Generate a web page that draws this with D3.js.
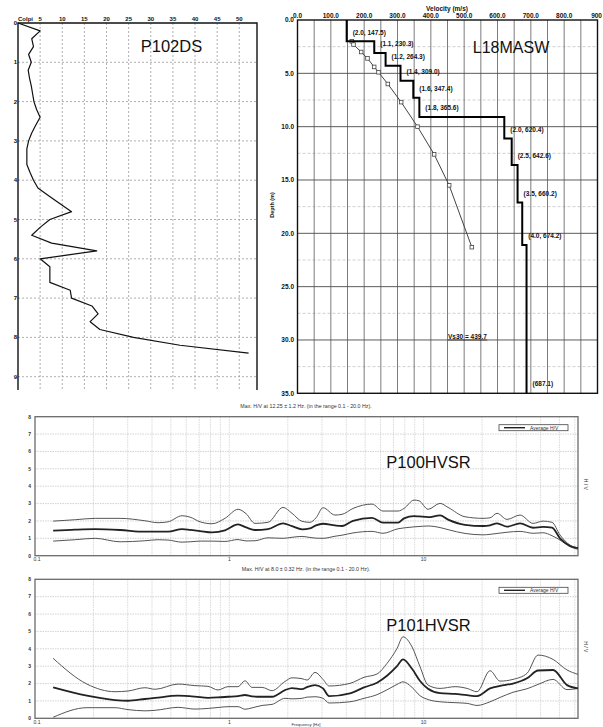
<!DOCTYPE html>
<html><head><meta charset="utf-8">
<script src="https://cdn.jsdelivr.net/npm/d3@7"></script>
<style>
body{margin:0;background:#fff;}
svg{display:block;font-family:"Liberation Sans",Arial,sans-serif;}
</style>
</head><body>
<svg id="c" width="603" height="727"></svg>
<script>
// ---------- P102DS (penetrometer) ----------
const dsDepth = [0,0.2,0.4,0.6,0.8,1.0,1.2,1.4,1.6,1.8,2.0,2.2,2.4,2.6,2.8,3.0,3.2,3.4,3.6,3.8,4.0,4.2,4.4,4.6,4.8,5.0,5.2,5.4,5.6,5.8,6.0,6.2,6.4,6.6,6.8,7.0,7.2,7.4,7.6,7.8,8.0,8.2,8.4];
const dsBlows = [0,5.0,3.1,3.5,2.4,3.0,2.3,2.6,3.0,3.3,3.6,4.2,5.0,4.0,3.1,2.4,2.0,2.0,2.0,2.7,3.5,4.5,7.0,9.5,12.1,7.2,5.0,3.1,7.6,17.8,5.0,7.2,7.2,7.2,11.8,12.1,16.7,18.1,16.3,18.5,26.1,36.6,52.1];
const dsXTicks = [5,10,15,20,25,30,35,40,45,50];
const dsYTicks = [0,1,2,3,4,5,6,7,8,9];

// ---------- L18MASW ----------
const maswThick = [2.0,1.1,1.2,1.4,1.6,1.8,2.0,2.5,3.5,4.0];
const maswVs = [147.5,230.3,264.3,309.0,347.4,365.6,620.4,642.6,660.2,674.2,687.1];
const maswMaxDepth = 35;
const dispVel = [163,168,191,210,230,243,271,311,360,410,455,523];
const dispDepth = [2.0,2.3,3.0,3.6,4.4,4.9,6.0,7.7,10.0,12.6,15.5,21.3];
const vs30Label = "Vs30 = 439.7";
const maswXTicks = [0,100,200,300,400,500,600,700,800,900];
const maswXTickLabels = ["0.0","100.0","200.0","300.0","400.0","500.0","600.0","700.0","800.0","900"];
const maswYTicks = [0,5,10,15,20,25,30,35];

// ---------- HVSR ----------
const p100Freq = [0.124,0.161,0.204,0.274,0.368,0.430,0.484,0.571,0.628,0.707,0.815,0.950,1.109,1.219,1.356,1.582,1.890,2.102,2.367,2.602,2.794,3.036,3.499,3.802,4.331,5.425,6.180,7.384,7.928,8.926,9.470,10.54,12.15,13.36,16.34,20.22,21.97,23.87,26.87,31.35,36.56,41.17,45.80,50.35,56.67,62.31];
const p100Up = [1.99,2.07,2.15,2.15,2.01,1.90,1.95,2.30,2.22,1.95,1.84,2.15,2.67,2.42,1.86,1.92,2.78,2.44,1.98,1.92,2.18,2.76,2.34,2.38,2.72,2.97,2.57,2.57,2.72,3.20,3.16,2.67,3.01,2.78,2.24,2.15,2.18,2.44,2.09,2.34,1.86,1.99,1.92,1.19,0.61,0.46];
const p100Avg = [1.44,1.50,1.53,1.48,1.38,1.38,1.38,1.53,1.49,1.42,1.34,1.46,1.80,1.63,1.48,1.53,1.86,1.70,1.52,1.57,1.75,1.84,1.74,1.71,2.01,2.18,1.90,1.90,2.15,2.28,2.26,2.22,2.32,2.08,1.78,1.71,1.75,1.86,1.67,1.86,1.61,1.66,1.62,1.00,0.56,0.43];
const p100Low = [0.84,0.92,1.00,0.80,0.86,0.92,0.90,0.78,0.80,0.84,0.84,0.82,0.93,0.85,0.86,1.03,1.00,1.06,1.11,1.05,1.01,1.00,1.12,1.18,1.31,1.40,1.29,1.55,1.60,1.66,1.68,1.71,1.62,1.50,1.28,1.20,1.23,1.28,1.35,1.40,1.29,1.32,1.15,0.90,0.52,0.37];

const p101Freq = [0.124,0.185,0.258,0.301,0.368,0.415,0.545,0.666,0.777,0.874,0.985,1.109,1.204,1.309,1.474,1.659,1.935,2.102,2.367,2.512,2.761,3.036,3.260,4.180,4.934,5.757,6.480,7.297,7.834,8.716,9.583,10.54,12.15,14.51,16.73,18.83,21.97,24.73,28.85,34.06,38.81,46.35,54.70,62.31];
const p101Up = [3.45,1.97,1.53,1.57,1.76,1.67,1.97,1.88,1.84,1.63,1.82,1.82,2.16,1.78,1.78,1.59,2.12,2.33,2.28,2.20,2.64,2.24,1.86,2.01,2.36,2.55,3.16,4.02,4.69,4.11,2.97,1.91,1.72,1.82,1.72,1.53,2.74,2.14,2.24,2.59,3.64,3.39,2.78,2.53];
const p101Avg = [1.78,1.30,1.05,1.01,1.11,1.17,1.30,1.25,1.18,1.20,1.24,1.28,1.34,1.26,1.24,1.24,1.62,1.74,1.68,1.80,1.91,1.72,1.28,1.44,1.78,2.05,2.45,3.00,3.39,2.85,2.15,1.70,1.45,1.40,1.33,1.28,1.72,1.87,2.00,2.30,2.75,2.78,1.91,1.72];
const p101Low = [0.06,0.61,0.61,0.50,0.43,0.46,0.63,0.53,0.57,0.62,0.67,0.67,0.52,0.60,0.74,0.80,1.15,1.12,1.15,1.22,1.24,1.15,0.88,0.95,1.15,1.36,1.64,1.95,2.10,1.78,1.30,1.08,0.95,0.90,0.86,0.74,0.95,1.20,1.50,1.70,1.95,2.24,1.65,1.72];

const hvXTickVals = [0.1,1,10];
const hvXTickLabels = ["0.1","1","10"];
const hvYTicks = [0,1,2,3,4,5,6,7,8];

const svg = d3.select("#c");

// ===================== P102DS =====================
(function(){
  const g = svg.append("g");
  const x = d3.scaleLinear().domain([0,54]).range([18,257]);
  const y = d3.scaleLinear().domain([0,9]).range([23,376.7]);
  const yEnd = 390;
  g.selectAll(".vg").data(dsXTicks).join("line")
    .attr("x1",d=>x(d)).attr("x2",d=>x(d)).attr("y1",y(0)).attr("y2",yEnd)
    .attr("stroke","#9a9a9a").attr("stroke-width",0.8).attr("stroke-dasharray","2,2");
  g.selectAll(".hg").data(dsYTicks.slice(1)).join("line")
    .attr("x1",x(0)).attr("x2",x(54)).attr("y1",d=>y(d)).attr("y2",d=>y(d))
    .attr("stroke","#9a9a9a").attr("stroke-width",0.8).attr("stroke-dasharray","2,2");
  g.append("path").attr("d",`M${x(0)},${yEnd}V${y(0)}H${x(54)}V${yEnd}`)
    .attr("fill","none").attr("stroke","#111").attr("stroke-width",1.4);
  g.selectAll(".xl").data(dsXTicks).join("text")
    .attr("x",d=>x(d)).attr("y",21).attr("text-anchor","middle")
    .attr("font-size",6).attr("font-weight","bold").attr("fill","#111").text(d=>d);
  g.append("text").attr("x",25.5).attr("y",21).attr("text-anchor","middle")
    .attr("font-size",6).attr("font-weight","bold").attr("fill","#111").text("Colpi");
  g.selectAll(".yl").data(dsYTicks).join("text")
    .attr("x",15.5).attr("y",d=>y(d)+2).attr("text-anchor","middle")
    .attr("font-size",6).attr("font-weight","bold").attr("fill","#111").text(d=>d);
  const line = d3.line().x((d,i)=>x(dsBlows[i])).y(d=>y(d));
  g.append("path").datum(dsDepth).attr("d",line)
    .attr("fill","none").attr("stroke","#111").attr("stroke-width",1.2).attr("stroke-linejoin","round");
  g.append("text").attr("x",171.5).attr("y",51.5).attr("text-anchor","middle")
    .attr("font-size",16.5).attr("fill","#111").text("P102DS");
})();

// ===================== L18MASW =====================
(function(){
  const g = svg.append("g");
  const x = d3.scaleLinear().domain([0,900]).range([297.5,597.5]);
  const y = d3.scaleLinear().domain([0,35]).range([20,393.3]);
  const minorH = maswYTicks.slice(0,-1).map(d=>d+2.5);
  g.selectAll(".mh").data(minorH).join("line")
    .attr("x1",x(0)).attr("x2",x(900)).attr("y1",d=>y(d)).attr("y2",d=>y(d))
    .attr("stroke","#c4c4c4").attr("stroke-width",0.8).attr("stroke-dasharray","3,2");
  const vgrid = d3.range(1,18).map(i=>i*50);
  g.selectAll(".vg").data(vgrid).join("line")
    .attr("x1",d=>x(d)).attr("x2",d=>x(d)).attr("y1",y(0)).attr("y2",y(35))
    .attr("stroke","#5a5a5a").attr("stroke-width",0.8);
  g.selectAll(".hg").data(maswYTicks.slice(1,-1)).join("line")
    .attr("x1",x(0)).attr("x2",x(900)).attr("y1",d=>y(d)).attr("y2",d=>y(d))
    .attr("stroke","#4a4a4a").attr("stroke-width",0.9);
  g.append("rect").attr("x",x(0)).attr("y",y(0)).attr("width",x(900)-x(0)).attr("height",y(35)-y(0))
    .attr("fill","none").attr("stroke","#111").attr("stroke-width",1.4);
  g.selectAll(".xl").data(maswXTicks).join("text")
    .attr("x",(d,i)=>i===maswXTicks.length-1 ? 602 : x(d)).attr("y",17.5)
    .attr("text-anchor",(d,i)=>i===maswXTicks.length-1 ? "end" : "middle")
    .attr("font-size",6.5).attr("font-weight","bold").attr("fill","#111").text((d,i)=>maswXTickLabels[i]);
  g.selectAll(".yl").data(maswYTicks).join("text")
    .attr("x",294).attr("y",d=>y(d)+2.3).attr("text-anchor","end")
    .attr("font-size",6.5).attr("font-weight","bold").attr("fill","#111").text(d=>d.toFixed(1));
  g.append("text").attr("x",447).attr("y",11).attr("text-anchor","middle")
    .attr("font-size",6.5).attr("font-weight","bold").attr("fill","#111").text("Velocity (m/s)");
  g.append("text").attr("transform","translate(274,205) rotate(-90)").attr("text-anchor","middle")
    .attr("font-size",5.5).attr("font-weight","bold").attr("fill","#111").text("Depth (m)");
  const tops = [0]; maswThick.forEach((t,i)=>tops.push(+(tops[i]+t).toFixed(2)));
  const bottoms = tops.slice(1).concat([maswMaxDepth]);
  const pts = [];
  maswVs.forEach((v,i)=>{ pts.push([v,tops[i]]); pts.push([v,bottoms[i]]); });
  const dl = d3.line().x((d,i)=>x(dispVel[i])).y(d=>y(d));
  g.append("path").datum(dispDepth).attr("d",dl).attr("fill","none").attr("stroke","#444").attr("stroke-width",1);
  g.selectAll(".mk").data(dispDepth).join("rect")
    .attr("x",(d,i)=>x(dispVel[i])-1.8).attr("y",d=>y(d)-1.8).attr("width",3.6).attr("height",3.6)
    .attr("fill","#fff").attr("stroke","#444").attr("stroke-width",0.8);
  g.append("path").datum(pts).attr("d",d3.line().x(d=>x(d[0])).y(d=>y(d[1])))
    .attr("fill","none").attr("stroke","#000").attr("stroke-width",2);
  maswVs.forEach((v,i)=>{
    const txt = i<maswThick.length ? `(${maswThick[i].toFixed(1)}, ${v.toFixed(1)})` : `(${v.toFixed(1)})`;
    const yy = y(bottoms[i]) - (i<maswThick.length ? 9 : 10);
    g.append("text").attr("x",x(v)+6).attr("y",yy+2.3)
      .attr("font-size",6.5).attr("font-weight","bold").attr("fill","#111").text(txt);
  });
  const vt = g.append("text").attr("x",448).attr("y",339)
    .attr("font-size",6.5).attr("font-weight","bold").attr("fill","#111").text(vs30Label);
  const bb = vt.node().getBBox();
  g.append("line").attr("x1",bb.x).attr("x2",bb.x+bb.width).attr("y1",340).attr("y2",340)
    .attr("stroke","#111").attr("stroke-width",0.7);
  g.append("text").attr("x",511).attr("y",53.3).attr("text-anchor","middle")
    .attr("font-size",16).attr("fill","#111").text("L18MASW");
})();

// ===================== HVSR panels =====================
function drawHV(cfg){
  const g = svg.append("g");
  const x = d3.scaleLog().domain([0.1,62.3]).range([35,578]);
  const y = d3.scaleLinear().domain([0,8]).range([cfg.bottom,cfg.top]);
  const vlines = [];
  [0.1,1,10].forEach(dec=>{ for(let k=1;k<=9;k++){ const v=+(k*dec).toPrecision(3); if(v>0.1 && v<62) vlines.push(v);} });
  g.selectAll(".vg").data(vlines).join("line")
    .attr("x1",d=>x(d)).attr("x2",d=>x(d)).attr("y1",cfg.top).attr("y2",cfg.bottom)
    .attr("stroke","#cfcfcf").attr("stroke-width",0.8).attr("stroke-dasharray","1.5,1");
  g.selectAll(".hg").data(hvYTicks.slice(1,-1)).join("line")
    .attr("x1",35).attr("x2",578).attr("y1",d=>y(d)).attr("y2",d=>y(d))
    .attr("stroke","#c8c8c8").attr("stroke-width",0.8).attr("stroke-dasharray","1.5,1");
  g.append("rect").attr("x",35).attr("y",cfg.top).attr("width",543).attr("height",cfg.bottom-cfg.top)
    .attr("fill","none").attr("stroke","#6a6a6a").attr("stroke-width",1.3);
  g.selectAll(".yl").data(hvYTicks).join("text")
    .attr("x",31).attr("y",d=>y(d)+1.8).attr("text-anchor","end")
    .attr("font-size",5).attr("font-weight","bold").attr("fill","#333").text(d=>d);
  g.selectAll(".xl").data(hvXTickVals).join("text")
    .attr("x",(d,i)=>x(d)+(i===0?2:0)).attr("y",cfg.bottom+5.5).attr("text-anchor","middle")
    .attr("font-size",5).attr("fill","#333").text((d,i)=>hvXTickLabels[i]);
  g.append("text").attr("x",306).attr("y",cfg.top-8.5).attr("text-anchor","middle")
    .attr("font-size",5.3).attr("fill","#333").text(cfg.title);
  g.append("text").attr("transform",`translate(584,${(cfg.top+cfg.bottom)/2-2}) rotate(90)`).attr("text-anchor","middle")
    .attr("font-size",5).attr("fill","#333").text("H / V");
  const ly = cfg.top+11;
  g.append("rect").attr("x",499).attr("y",ly-3).attr("width",69).attr("height",6)
    .attr("fill","#fff").attr("stroke","#444").attr("stroke-width",0.8);
  g.append("line").attr("x1",504).attr("x2",525).attr("y1",ly).attr("y2",ly).attr("stroke","#222").attr("stroke-width",1.4);
  g.append("text").attr("x",530).attr("y",ly+1.8).attr("font-size",5).attr("fill","#333").text("Average H/V");
  const mk = arr => d3.line().x((d,i)=>x(cfg.freq[i])).y((d,i)=>y(arr[i])).curve(d3.curveMonotoneX);
  g.append("path").datum(cfg.up).attr("d",mk(cfg.up)).attr("fill","none").attr("stroke","#555").attr("stroke-width",1);
  g.append("path").datum(cfg.low).attr("d",mk(cfg.low)).attr("fill","none").attr("stroke","#555").attr("stroke-width",1);
  g.append("path").datum(cfg.avg).attr("d",mk(cfg.avg)).attr("fill","none").attr("stroke","#222").attr("stroke-width",1.8);
  g.append("text").attr("x",428.5).attr("y",cfg.top+51.5).attr("text-anchor","middle")
    .attr("font-size",16.5).attr("fill","#111").text(cfg.name);
  if(cfg.xlabel){
    g.append("text").attr("x",306).attr("y",cfg.bottom+7.2).attr("text-anchor","middle")
      .attr("font-size",4.3).attr("fill","#333").text(cfg.xlabel);
  }
}
drawHV({top:416.7,bottom:555.7,freq:p100Freq,up:p100Up,avg:p100Avg,low:p100Low,
  title:"Max. H/V at 12.25 ± 1.2 Hz. (in the range 0.1 - 20.0 Hz).",name:"P100HVSR"});
drawHV({top:579.3,bottom:718.3,freq:p101Freq,up:p101Up,avg:p101Avg,low:p101Low,
  title:"Max. H/V at 8.0 ± 0.32 Hz. (in the range 0.1 - 20.0 Hz).",name:"P101HVSR",xlabel:"Frequency [Hz]"});
</script>
</body></html>
